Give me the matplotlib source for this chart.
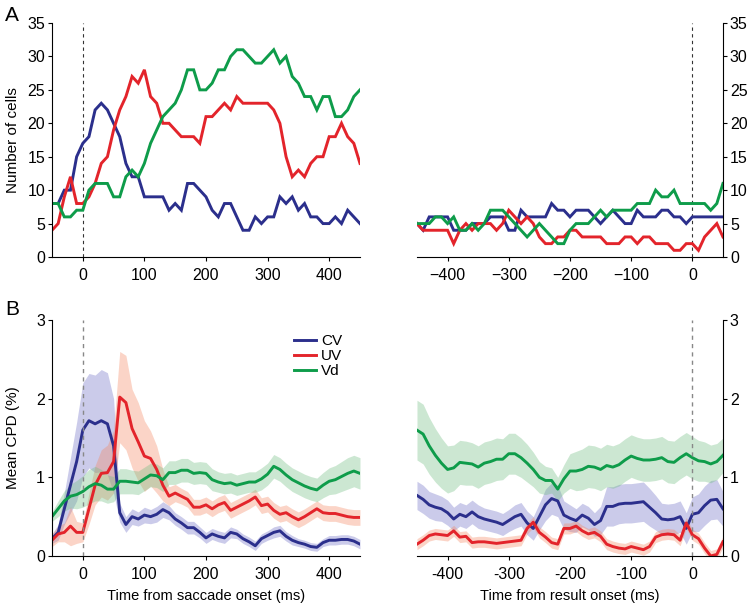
import numpy as np
import matplotlib.pyplot as plt

# time axes (ms)
t_sacc = list(range(-50, 451, 10))
t_res = list(range(-450, 51, 10))

# A: number of cells, aligned to saccade onset
cv_cells_sacc = [8, 8, 10, 10, 15, 17, 18, 22, 23, 22, 20, 18, 14, 12, 12, 9, 9, 9, 9, 7, 8, 7, 11, 11, 10,
                 9, 7, 6, 8, 8, 6, 4, 4, 6, 5, 6, 6, 9, 8, 9, 7, 8, 6, 6, 5, 5, 6, 5, 7, 6, 5]
uv_cells_sacc = [4, 5, 9, 12, 8, 8, 9, 11, 14, 15, 19, 22, 24, 27, 26, 28, 24, 23, 20, 20, 19, 18, 18, 18, 17,
                 21, 21, 22, 23, 22, 24, 23, 23, 23, 23, 23, 22, 20, 15, 12, 13, 12, 14, 15, 15, 18, 18, 20, 18, 17, 14]
vd_cells_sacc = [8, 8, 6, 6, 7, 7, 10, 11, 11, 11, 9, 9, 12, 13, 12, 14, 17, 19, 21, 22, 23, 25, 28, 28, 25,
                 25, 26, 28, 28, 30, 31, 31, 30, 29, 29, 30, 31, 29, 30, 27, 26, 24, 24, 22, 24, 24, 21, 21, 22, 24, 25]

# A: number of cells, aligned to result onset
cv_cells_res = [5, 4, 6, 6, 6, 6, 4, 4, 4, 5, 5, 5, 6, 6, 6, 4, 4, 7, 6, 6, 6, 6, 8, 7, 7,
                6, 7, 7, 7, 6, 5, 6, 7, 6, 5, 5, 7, 6, 6, 6, 7, 7, 6, 6, 5, 6, 6, 6, 6, 6, 6]
uv_cells_res = [5, 4, 4, 4, 4, 4, 2, 4, 5, 4, 5, 5, 5, 4, 5, 7, 6, 5, 6, 5, 3, 2, 2, 3, 3,
                4, 4, 3, 3, 3, 3, 2, 2, 2, 3, 3, 2, 3, 3, 2, 2, 2, 1, 1, 2, 2, 1, 3, 4, 5, 3]
vd_cells_res = [5, 5, 5, 6, 6, 5, 6, 4, 4, 5, 4, 5, 7, 7, 7, 6, 5, 4, 3, 4, 5, 4, 3, 2, 2,
                4, 5, 5, 5, 6, 7, 6, 7, 7, 7, 7, 8, 8, 8, 10, 9, 9, 10, 8, 8, 8, 8, 8, 7, 8, 11]

# B: mean CPD (%), aligned to saccade onset, with s.e.m.
cv_cpd_sacc = [0.22, 0.3, 0.6, 0.9, 1.2, 1.6, 1.72, 1.68, 1.72, 1.68, 1.4, 0.55, 0.4, 0.5, 0.47, 0.52, 0.5,
               0.53, 0.59, 0.55, 0.47, 0.42, 0.36, 0.36, 0.3, 0.23, 0.28, 0.25, 0.23, 0.3, 0.28, 0.22, 0.18,
               0.13, 0.22, 0.26, 0.3, 0.32, 0.25, 0.2, 0.17, 0.15, 0.12, 0.11, 0.17, 0.2, 0.2, 0.21, 0.21, 0.19, 0.15]
cv_sem_sacc = [0.06, 0.1, 0.2, 0.35, 0.5, 0.6, 0.6, 0.62, 0.65, 0.65, 0.6, 0.12, 0.1, 0.1, 0.09, 0.1, 0.09,
               0.1, 0.1, 0.09, 0.08, 0.08, 0.08, 0.08, 0.07, 0.07, 0.07, 0.07, 0.07, 0.07, 0.06, 0.06, 0.06,
               0.06, 0.06, 0.06, 0.07, 0.07, 0.06, 0.06, 0.05, 0.05, 0.05, 0.05, 0.05, 0.06, 0.06, 0.06, 0.06, 0.06, 0.06]
uv_cpd_sacc = [0.2, 0.28, 0.3, 0.38, 0.3, 0.3, 0.6, 0.9, 1.05, 1.06, 1.2, 2.02, 1.95, 1.62, 1.45, 1.27, 1.24,
               1.1, 0.9, 0.76, 0.8, 0.76, 0.72, 0.62, 0.62, 0.65, 0.6, 0.65, 0.68, 0.58, 0.62, 0.66, 0.7,
               0.75, 0.64, 0.66, 0.58, 0.53, 0.55, 0.5, 0.46, 0.5, 0.55, 0.6, 0.55, 0.54, 0.54, 0.52, 0.5, 0.49, 0.49]
uv_sem_sacc = [0.08, 0.1, 0.12, 0.25, 0.14, 0.12, 0.2, 0.25, 0.3, 0.35, 0.4, 0.58, 0.6, 0.5, 0.5, 0.45, 0.35,
               0.3, 0.2, 0.12, 0.11, 0.1, 0.1, 0.1, 0.1, 0.1, 0.1, 0.1, 0.1, 0.1, 0.1, 0.1, 0.1,
               0.1, 0.1, 0.1, 0.1, 0.1, 0.1, 0.1, 0.1, 0.1, 0.1, 0.1, 0.1, 0.1, 0.1, 0.1, 0.1, 0.1, 0.1]
vd_cpd_sacc = [0.5, 0.6, 0.7, 0.76, 0.78, 0.82, 0.88, 0.92, 0.9, 0.85, 0.85, 0.95, 0.95, 0.94, 0.93, 0.98, 1.03,
               1.02, 0.97, 1.06, 1.06, 1.09, 1.09, 1.05, 1.06, 1.05, 0.97, 0.94, 0.92, 0.93, 0.9, 0.92, 0.94,
               0.94, 0.98, 1.04, 1.14, 1.1, 1.03, 0.97, 0.93, 0.89, 0.86, 0.84, 0.9, 0.95, 0.97, 1.01, 1.05, 1.08, 1.05]
vd_sem_sacc = [0.06, 0.1, 0.13, 0.15, 0.18, 0.2, 0.22, 0.22, 0.2, 0.18, 0.16, 0.16, 0.16, 0.15, 0.15, 0.15, 0.15,
               0.15, 0.15, 0.15, 0.15, 0.15, 0.15, 0.14, 0.14, 0.14, 0.14, 0.13, 0.13, 0.13, 0.13, 0.13, 0.13,
               0.13, 0.14, 0.14, 0.15, 0.15, 0.15, 0.15, 0.15, 0.15, 0.15, 0.15, 0.16, 0.17, 0.18, 0.19, 0.2, 0.2, 0.2]

# B: mean CPD (%), aligned to result onset, with s.e.m.
cv_cpd_res = [0.77, 0.72, 0.65, 0.62, 0.6, 0.55, 0.47, 0.53, 0.5, 0.56, 0.5, 0.47, 0.45, 0.43, 0.4, 0.45, 0.5,
              0.53, 0.42, 0.35, 0.5, 0.65, 0.73, 0.7, 0.52, 0.48, 0.45, 0.52, 0.48, 0.4, 0.45, 0.63, 0.63,
              0.66, 0.67, 0.67, 0.68, 0.69, 0.62, 0.55, 0.47, 0.46, 0.47, 0.5, 0.35, 0.53, 0.55, 0.64, 0.71, 0.72, 0.6]
cv_sem_res = [0.18, 0.18, 0.17, 0.17, 0.16, 0.16, 0.15, 0.15, 0.15, 0.15, 0.15, 0.14, 0.14, 0.14, 0.14, 0.14, 0.15,
              0.15, 0.15, 0.15, 0.17, 0.2, 0.2, 0.2, 0.18, 0.17, 0.15, 0.15, 0.15, 0.15, 0.18, 0.25, 0.25,
              0.25, 0.25, 0.25, 0.25, 0.25, 0.24, 0.22, 0.2, 0.2, 0.2, 0.2, 0.2, 0.22, 0.24, 0.25, 0.25, 0.25, 0.22]
uv_cpd_res = [0.15, 0.2, 0.26, 0.28, 0.27, 0.26, 0.32, 0.24, 0.25, 0.17, 0.18, 0.18, 0.17, 0.16, 0.17, 0.18, 0.19,
              0.2, 0.35, 0.43, 0.3, 0.24, 0.17, 0.15, 0.35, 0.35, 0.38, 0.32, 0.28, 0.3, 0.25, 0.15, 0.12,
              0.1, 0.09, 0.12, 0.1, 0.08, 0.12, 0.24, 0.27, 0.28, 0.27, 0.2, 0.42, 0.27, 0.22, 0.1, 0.0, 0.02, 0.18]
uv_sem_res = [0.07] * 51
vd_cpd_res = [1.6, 1.55, 1.4, 1.28, 1.18, 1.1, 1.12, 1.19, 1.18, 1.17, 1.13, 1.18, 1.2, 1.23, 1.23, 1.3, 1.3,
              1.25, 1.18, 1.1, 1.0, 0.96, 0.96, 0.85, 0.98, 1.08, 1.08, 1.1, 1.14, 1.13, 1.1, 1.15, 1.13,
              1.16, 1.22, 1.27, 1.24, 1.22, 1.22, 1.23, 1.25, 1.2, 1.19, 1.25, 1.3, 1.25, 1.21, 1.2, 1.17, 1.2, 1.28]
vd_sem_res = [0.38, 0.38, 0.36, 0.34, 0.32, 0.3, 0.29, 0.28, 0.28, 0.27, 0.27, 0.27, 0.27, 0.27, 0.26, 0.26, 0.26,
              0.25, 0.24, 0.22, 0.2, 0.18, 0.16, 0.15, 0.18, 0.22, 0.25, 0.26, 0.27, 0.27, 0.27, 0.27, 0.27,
              0.27, 0.27, 0.27, 0.27, 0.27, 0.27, 0.27, 0.27, 0.27, 0.27, 0.27, 0.27, 0.27, 0.26, 0.25, 0.24, 0.23, 0.22]

labels = ['CV', 'UV', 'Vd']
colors = ['#2b2f8c', '#e3242b', '#0e9c4a']
band_colors = ['#6b6bc4', '#f4865f', '#6dbd7f']

cell_ticks = [0, 5, 10, 15, 20, 25, 30, 35]
cpd_ticks = [0, 1, 2, 3]
sacc_ticks = [0, 100, 200, 300, 400]
res_ticks = [-400, -300, -200, -100, 0]
res_ticklabels_top = ['\u2212400', '\u2212300', '\u2212200', '\u2212100', '0']
res_ticklabels_bottom = ['-400', '-300', '-200', '-100', '0']

plt.rcParams['font.family'] = ['Liberation Sans', 'DejaVu Sans']
plt.rcParams['font.size'] = 11

fig = plt.figure(figsize=(7.47, 6.04), dpi=100)
ax_a1 = fig.add_axes([0.0696, 0.5745, 0.4123, 0.3874])
ax_a2 = fig.add_axes([0.5582, 0.5745, 0.4096, 0.3874])
ax_b1 = fig.add_axes([0.0696, 0.0795, 0.4123, 0.3907])
ax_b2 = fig.add_axes([0.5582, 0.0795, 0.4096, 0.3907])


def style(ax, side):
    for s in ['top', 'left', 'right']:
        ax.spines[s].set_visible(s == side)
    ax.spines['bottom'].set_linewidth(0.8)
    ax.spines[side].set_linewidth(0.8)
    ax.tick_params(direction='out', length=3, width=0.8, labelsize=11.5, pad=2)
    ax.tick_params(axis='x', pad=5)
    if side == 'right':
        ax.yaxis.tick_right()
        ax.yaxis.set_label_position('right')


# panel A
for ax, t, series in [(ax_a1, t_sacc, [cv_cells_sacc, uv_cells_sacc, vd_cells_sacc]),
                      (ax_a2, t_res, [cv_cells_res, uv_cells_res, vd_cells_res])]:
    ax.axvline(0, ymin=0, ymax=1, color='#333333', lw=0.8, ls=(0, (3, 3)))
    for y, c in zip(series, colors):
        ax.plot(t, y, color=c, lw=2.1, solid_joinstyle='miter')
    ax.set_ylim(0, 35)
    ax.set_yticks(cell_ticks)

ax_a1.set_xlim(-50, 450)
ax_a1.set_xticks(sacc_ticks)
ax_a2.set_xlim(-450, 50)
ax_a2.set_xticks(res_ticks)
ax_a2.set_xticklabels(res_ticklabels_top)
style(ax_a1, 'left')
style(ax_a2, 'right')
ax_a1.set_ylabel('Number of cells', fontsize=11, labelpad=5)

# panel B
for ax, t, means, sems in [(ax_b1, t_sacc, [cv_cpd_sacc, uv_cpd_sacc, vd_cpd_sacc],
                            [cv_sem_sacc, uv_sem_sacc, vd_sem_sacc]),
                           (ax_b2, t_res, [cv_cpd_res, uv_cpd_res, vd_cpd_res],
                            [cv_sem_res, uv_sem_res, vd_sem_res])]:
    ax.axvline(0, color='#888888', lw=1.0, ls=(0, (3, 3)), zorder=5)
    for m, s, bc in zip(means, sems, band_colors):
        m = np.array(m)
        s = np.array(s)
        ax.fill_between(t, m - s, m + s, color=bc, alpha=0.35, lw=0)
    for m, c, lab in zip(means, colors, labels):
        ax.plot(t, m, color=c, lw=2.1, label=lab)
    ax.set_ylim(0, 3)
    ax.set_yticks(cpd_ticks)

ax_b1.set_xlim(-50, 450)
ax_b1.set_xticks(sacc_ticks)
ax_b2.set_xlim(-450, 50)
ax_b2.set_xticks(res_ticks)
ax_b2.set_xticklabels(res_ticklabels_bottom)
style(ax_b1, 'left')
style(ax_b2, 'right')
ax_b1.set_ylabel('Mean CPD (%)', fontsize=11, labelpad=12)
ax_b1.set_xlabel('Time from saccade onset (ms)', fontsize=10.5, labelpad=5)
ax_b2.set_xlabel('Time from result onset (ms)', fontsize=10.5, labelpad=5)

ax_b1.legend(loc='upper left', bbox_to_anchor=(0.765, 0.965), frameon=False, fontsize=11,
             handlelength=1.45, handletextpad=0.35, labelspacing=0.05, borderaxespad=0)

fig.text(0.007, 0.975, 'A', fontsize=15, va='center')
fig.text(0.007, 0.487, 'B', fontsize=15, va='center')

fig.savefig('out.png', dpi=100)
